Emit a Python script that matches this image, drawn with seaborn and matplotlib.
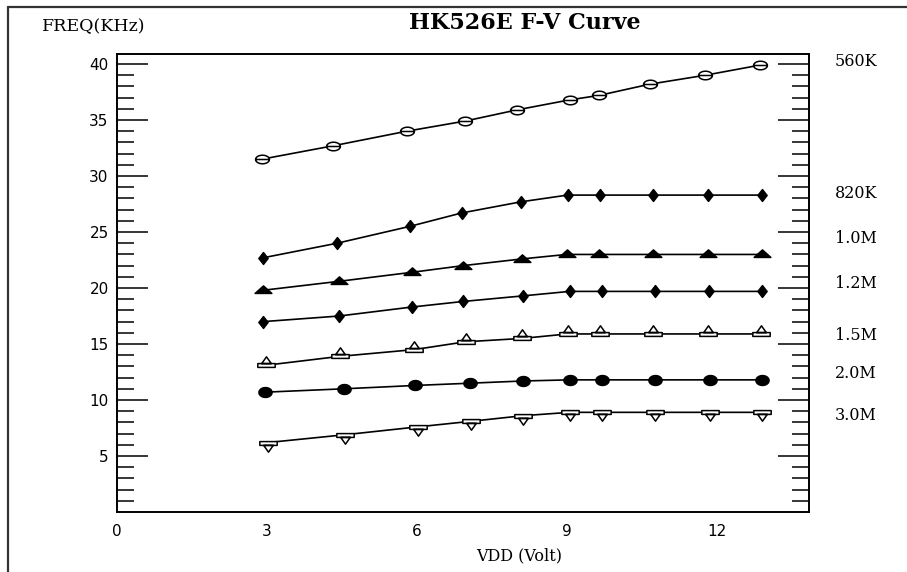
import numpy as np
import pandas as pd
import matplotlib
matplotlib.use("Agg")
import matplotlib.pyplot as plt
from matplotlib.path import Path
from matplotlib.lines import Line2D
import seaborn as sns

# --- data (VDD in volt, FREQ in KHz) ---
resistors = ["560K", "820K", "1.0M", "1.2M", "1.5M", "2.0M", "3.0M"]

vdd_560k = [2.89, 4.32, 5.79, 6.95, 7.99, 9.05, 9.64, 10.65, 11.76, 12.85]
freq_560k = [31.5, 32.7, 34.0, 34.9, 35.9, 36.8, 37.2, 38.2, 39.0, 39.9]

vdd_820k = [2.92, 4.40, 5.85, 6.89, 8.08, 9.01, 9.65, 10.71, 11.81, 12.89]
freq_820k = [22.7, 24.0, 25.5, 26.7, 27.7, 28.3, 28.3, 28.3, 28.3, 28.3]

vdd_1m0 = [2.92, 4.44, 5.89, 6.92, 8.10, 8.99, 9.64, 10.72, 11.81, 12.90]
freq_1m0 = [19.8, 20.6, 21.4, 22.0, 22.6, 23.0, 23.0, 23.0, 23.0, 23.0]

vdd_1m2 = [2.92, 4.44, 5.89, 6.92, 8.12, 9.05, 9.69, 10.76, 11.83, 12.90]
freq_1m2 = [17.0, 17.5, 18.3, 18.8, 19.3, 19.7, 19.7, 19.7, 19.7, 19.7]

vdd_1m5 = [2.97, 4.46, 5.94, 6.97, 8.10, 9.01, 9.65, 10.72, 11.81, 12.88]
freq_1m5 = [13.1, 13.9, 14.5, 15.2, 15.5, 15.9, 15.9, 15.9, 15.9, 15.9]

vdd_2m0 = [2.96, 4.53, 5.96, 7.05, 8.12, 9.05, 9.69, 10.76, 11.85, 12.90]
freq_2m0 = [10.7, 11.0, 11.3, 11.5, 11.7, 11.8, 11.8, 11.8, 11.8, 11.8]

vdd_3m0 = [3.01, 4.56, 6.01, 7.08, 8.12, 9.05, 9.69, 10.76, 11.85, 12.90]
freq_3m0 = [6.2, 6.9, 7.6, 8.1, 8.6, 8.9, 8.9, 8.9, 8.9, 8.9]

x_ticks = [0, 3, 6, 9, 12]
y_ticks = [5, 10, 15, 20, 25, 30, 35, 40]

vdd_all = [vdd_560k, vdd_820k, vdd_1m0, vdd_1m2, vdd_1m5, vdd_2m0, vdd_3m0]
freq_all = [freq_560k, freq_820k, freq_1m0, freq_1m2, freq_1m5, freq_2m0, freq_3m0]

rows = []
for name, xs, ys in zip(resistors, vdd_all, freq_all):
    for x, y in zip(xs, ys):
        rows.append({"R": name, "VDD": x, "FREQ": y})
df = pd.DataFrame(rows)


# --- marker shapes that look like the old bitmap glyphs ---
def ellipse(ry, n=24):
    t = np.linspace(0, 2 * np.pi, n)
    return np.column_stack([np.cos(t), ry * np.sin(t)])


def closed(verts):
    codes = [Path.MOVETO] + [Path.LINETO] * (len(verts) - 2) + [Path.CLOSEPOLY]
    return Path(verts, codes)


m_slashed = Path.make_compound_path(
    closed(ellipse(0.62)),
    Path([(-1.0, 0.0), (1.0, 0.0)], [Path.MOVETO, Path.LINETO]),
)
m_diamond = closed([(0, 1), (0.78, 0), (0, -1), (-0.78, 0), (0, 1)])
m_flat_tri = closed([(-1, -0.35), (1, -0.35), (0, 0.55), (-1, -0.35)])
m_tri_bar = Path.make_compound_path(
    closed([(-1, -0.22), (1, -0.22), (1, 0.22), (-1, 0.22), (-1, -0.22)]),
    closed([(-0.55, 0.22), (0.55, 0.22), (0, 1.0), (-0.55, 0.22)]),
)
m_bar_tri = Path.make_compound_path(
    closed([(-1, -0.22), (1, -0.22), (1, 0.22), (-1, 0.22), (-1, -0.22)]),
    closed([(-0.55, -0.22), (0.55, -0.22), (0, -1.0), (-0.55, -0.22)]),
)
m_blob = closed(ellipse(0.75))

styles = {
    "560K": dict(marker=m_slashed, markersize=10, markerfacecolor="white"),
    "820K": dict(marker=m_diamond, markersize=8.5, markerfacecolor="black"),
    "1.0M": dict(marker=m_flat_tri, markersize=12, markerfacecolor="black"),
    "1.2M": dict(marker=m_diamond, markersize=8.5, markerfacecolor="black"),
    "1.5M": dict(marker=m_tri_bar, markersize=12.5, markerfacecolor="white"),
    "2.0M": dict(marker=m_blob, markersize=9.5, markerfacecolor="black"),
    "3.0M": dict(marker=m_bar_tri, markersize=12.5, markerfacecolor="white"),
}

sns.set_style("white")
plt.rcParams["font.family"] = ["DejaVu Sans"]
plt.rcParams["text.color"] = "black"
plt.rcParams["xtick.color"] = "black"
plt.rcParams["ytick.color"] = "black"

fig = plt.figure(figsize=(9.07, 5.72), dpi=100)
ax = fig.add_axes([117 / 907, 1 - 512 / 572, (809 - 117) / 907, (512 - 54) / 572])

for name in resistors:
    sub = df[df["R"] == name]
    sns.lineplot(data=sub, x="VDD", y="FREQ", ax=ax, color="black", linewidth=1.2,
                 markeredgecolor="black", markeredgewidth=1.1, sort=False,
                 estimator=None, legend=False, **styles[name])

ax.set_xlim(0, 13.84)
ax.set_ylim(0, 40.9)
ax.set_xticks(x_ticks)
ax.set_xticks(range(0, 14), minor=True)
ax.set_yticks(y_ticks)
ax.set_yticks(range(1, 41), minor=True)
ax.set_xticklabels([str(v) for v in x_ticks], family="DejaVu Sans", fontsize=11,
                   color="black")
ax.set_yticklabels([str(v) for v in y_ticks], family="DejaVu Sans", fontsize=11,
                   color="black")

ax.tick_params(axis="x", which="major", direction="in", length=28, width=1.1,
               color="black", pad=9, top=False)
ax.tick_params(axis="x", which="minor", direction="in", length=9.5, width=1.1,
               color="black", top=False)
ax.tick_params(axis="y", which="major", direction="in", length=22, width=1.1,
               color="black", pad=6, left=True, right=True)
ax.tick_params(axis="y", which="minor", direction="in", length=12, width=1.1,
               color="black", left=True, right=True)

for s in ax.spines.values():
    s.set_color("black")
    s.set_linewidth(1.4)

ax.set_xlabel("")
ax.set_ylabel("")

# series names on the right
label_y = [40.2, 28.4, 24.4, 20.4, 15.8, 12.4, 8.6]
for name, yy in zip(resistors, label_y):
    ax.text(14.36, yy, name, family="DejaVu Serif", fontsize=11.5, color="black",
            ha="left", va="center", clip_on=False)

fig.text(525 / 907, 1 - 23 / 572, "HK526E F-V Curve", family="DejaVu Serif",
         fontweight="bold", fontsize=16, color="black", ha="center", va="center")
fig.text(42 / 907, 1 - 27 / 572, "FREQ(KHz)", family="DejaVu Serif",
         fontsize=12.5, color="black", ha="left", va="center")
fig.text(519 / 907, 1 - 556 / 572, "VDD (Volt)", family="DejaVu Serif",
         fontsize=11.5, color="black", ha="center", va="center")

# outer frame (only the left and top edges fall inside the picture)
fig.add_artist(Line2D([8 / 907, 8 / 907], [0, 1 - 7 / 572], color="#333333",
                      linewidth=1.6, transform=fig.transFigure))
fig.add_artist(Line2D([8 / 907, 1], [1 - 7 / 572, 1 - 7 / 572], color="#333333",
                      linewidth=1.6, transform=fig.transFigure))

fig.savefig("out.png", dpi=100)
